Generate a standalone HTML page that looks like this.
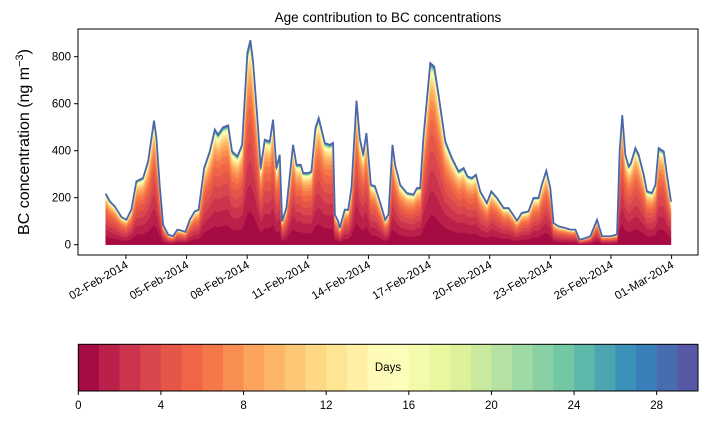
<!DOCTYPE html>
<html><head><meta charset="utf-8"><style>
body{margin:0;background:#fff;}
svg{display:block;font-family:"Liberation Sans","DejaVu Sans",sans-serif;}
</style></head><body>
<svg id="c" width="707" height="425" viewBox="0 0 707 425"></svg>
<script>
// Data: days since 01-Feb-2014 and total BC concentration (ng m^-3)
const days=[0,0.2,0.45,0.78,1.02,1.27,1.52,1.85,2.1,2.39,2.51,2.67,2.84,3.09,3.33,3.55,3.75,3.94,4.16,4.41,4.6,4.87,5.15,5.4,5.56,5.81,6.06,6.25,6.52,6.75,7.01,7.16,7.29,7.54,7.67,7.87,8.12,8.28,8.45,8.61,8.73,8.94,9.27,9.44,9.65,9.77,10.02,10.18,10.38,10.54,10.84,11.09,11.25,11.34,11.5,11.58,11.83,12.0,12.16,12.41,12.57,12.74,12.9,13.12,13.32,13.56,13.83,13.99,14.19,14.32,14.57,14.9,15.23,15.4,15.56,15.72,16.06,16.25,16.47,16.8,17.13,17.46,17.71,17.9,18.12,18.32,18.53,18.86,19.08,19.36,19.69,19.93,20.1,20.35,20.59,20.92,21.17,21.42,21.58,21.8,22.0,22.16,22.41,22.74,22.99,23.24,23.45,23.73,23.98,24.31,24.56,24.97,25.3,25.43,25.56,25.71,25.88,25.99,26.21,26.37,26.62,26.78,27.03,27.2,27.36,27.61,27.77,27.97];
const totals=[217,185,163,118,106,149,270,284,355,528,454,255,85,43,36,64,60,54,106,142,149,326,397,490,468,500,508,397,376,425,816,870,780,497,326,447,440,532,326,383,100,156,425,340,340,305,305,312,497,539,433,425,433,128,100,71,149,149,241,613,454,383,475,255,249,185,106,128,425,340,255,220,213,241,241,454,773,759,638,440,369,312,326,291,284,298,227,177,227,199,156,156,135,102,135,142,199,199,255,315,241,92,78,71,64,64,21,28,36,106,36,36,43,397,551,383,333,348,411,383,298,227,220,255,411,397,298,185];
// Share of each age bin (days 0..29), normalised
const ageShares=[0.17,0.14,0.12,0.11,0.10,0.08,0.065,0.05,0.04,0.03,0.025,0.02,0.016,0.013,0.01,0.008,0.006,0.005,0.004,0.004,0.003,0.003,0.003,0.003,0.003,0.003,0.003,0.003,0.003,0.003];
const yTicks=[0,200,400,600,800];
const xTickDays=[1,4,7,10,13,16,19,22,25,28];
const xTickLabels=["02-Feb-2014","05-Feb-2014","08-Feb-2014","11-Feb-2014","14-Feb-2014","17-Feb-2014","20-Feb-2014","23-Feb-2014","26-Feb-2014","01-Mar-2014"];
const cbTicks=[0,4,8,12,16,20,24,28];

const NS="http://www.w3.org/2000/svg";
const svg=document.getElementById('c');
function el(t,a,p){const e=document.createElementNS(NS,t);for(const k in a)e.setAttribute(k,a[k]);(p||svg).appendChild(e);return e;}
const L=78,R=698,T=29,B=255;
const x=d=>105.7+d*20.21;
const y=v=>244.7-v*0.235;
const spec=["#9e0142","#d53e4f","#f46d43","#fdae61","#fee08b","#ffffbf","#e6f598","#abdda4","#66c2a5","#3288bd","#5e4fa2"];
function hex(h){return [1,3,5].map(i=>parseInt(h.substr(i,2),16));}
function cmap(t){const s=t*10,i=Math.min(9,Math.floor(s)),f=s-i;const a=hex(spec[i]),b=hex(spec[i+1]);return "rgb("+a.map((v,j)=>Math.round(v+(b[j]-v)*f)).join(",")+")";}
const N=30;const colors=[];for(let k=0;k<N;k++)colors.push(cmap((k+0.5)/N));

const title=el('text',{x:388,y:22,'text-anchor':'middle','font-size':13.5});title.textContent="Age contribution to BC concentrations";



const sumS=ageShares.reduce((a,b)=>a+b,0);
const g=el('g',{});


let base=days.map(()=>0);
for(let k=0;k<N;k++){
  const top=totals.map((v,i)=>base[i]+v*ageShares[k]/sumS);
  let d="M"+days.map((dd,i)=>x(dd).toFixed(2)+","+y(top[i]).toFixed(2)).join("L");
  for(let i=days.length-1;i>=0;i--)d+="L"+x(days[i]).toFixed(2)+","+y(base[i]).toFixed(2);
  const p=el('path',{d:d+"Z",fill:colors[k],stroke:colors[k],'stroke-width':0.5},g);
  
  
  base=top;
}
const line=el('path',{d:"M"+days.map((dd,i)=>x(dd).toFixed(2)+","+y(totals[i]).toFixed(2)).join("L"),fill:'none',stroke:'#4c66ab','stroke-width':1.8});



const fr=el('rect',{x:L,y:T,width:R-L,height:B-T,fill:'none',stroke:'#000','stroke-width':1});


yTicks.forEach(v=>{
  el('line',{x1:L-4,x2:L,y1:y(v),y2:y(v),stroke:'#000'});
  const t=el('text',{x:L-7,y:y(v)+4,'text-anchor':'end','font-size':11.5});t.textContent=v;
  
  
});
xTickDays.forEach((d,i)=>{
  el('line',{x1:x(d),x2:x(d),y1:B,y2:B+4,stroke:'#000'});
  const t=el('text',{x:x(d)+3,y:B+12,'text-anchor':'end','font-size':11.5,transform:`rotate(-30 ${x(d)+3} ${B+12})`});t.textContent=xTickLabels[i];
  
  
});
const yl=el('text',{x:0,y:0,'text-anchor':'middle','font-size':16,transform:'translate(29,142) rotate(-90)'});
yl.innerHTML='BC concentration (ng m<tspan dy="-6" font-size="11">−3</tspan><tspan dy="6">)</tspan>';



const cbL=78.3,cbR=698,cbT=344.3,cbB=391;
const cw=(cbR-cbL)/N;
const cb=el('g',{});


for(let k=0;k<N;k++){const r=el('rect',{x:cbL+k*cw,y:cbT,width:cw+0.5,height:cbB-cbT,fill:colors[k]},cb);
  
  }
el('rect',{x:cbL,y:cbT,width:cbR-cbL,height:cbB-cbT,fill:'none',stroke:'#000'},cb);
cbTicks.forEach(v=>{const xx=cbL+v*cw;el('line',{x1:xx,x2:xx,y1:cbB,y2:cbB+4,stroke:'#000'});
  const t=el('text',{x:xx,y:cbB+18,'text-anchor':'middle','font-size':11.5});t.textContent=v;
  
  });
const dl=el('text',{x:388,y:371,'text-anchor':'middle','font-size':11.5});dl.textContent="Days";


</script>
</body></html>
